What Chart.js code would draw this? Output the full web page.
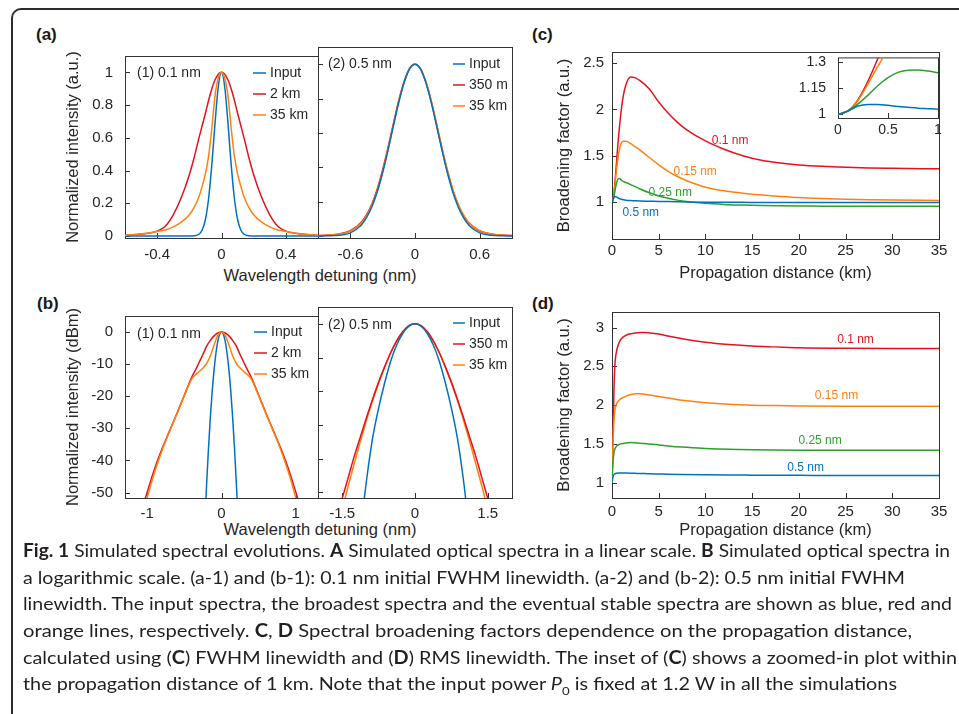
<!DOCTYPE html>
<html lang="en">
<head>
<meta charset="UTF-8">
<title>Fig. 1 Simulated spectral evolutions</title>
<script src="https://cdn.jsdelivr.net/npm/chart.js"></script>
<style>
  body { margin: 0; width: 959px; height: 714px; background: #fff; position: relative; overflow: hidden;
         font-family: "Liberation Sans", Arial, sans-serif; color: #262626; }
  .frame { position: absolute; left: 11px; top: 8px; width: 1000px; height: 800px;
           border-left: 2px solid #2b2b2b; border-top: 2px solid #2b2b2b; border-top-left-radius: 10px; }
  .box { position: absolute; }
  .plab { position: absolute; font-weight: bold; font-size: 17px; line-height: 17px; color: #1a1a1a; }
  .xt { position: absolute; width: 240px; text-align: center; font-size: 16.5px; line-height: 19.8px; }
  #caption { position: absolute; left: 23px; top: 537px; font-family: Lato, "Open Sans", sans-serif;
             font-size: 18px; line-height: 26.7px; color: #231f20; }
  #caption .ln { display: block; white-space: nowrap; height: 26.7px; }
  #caption .ln span.in { display: inline-block; transform-origin: 0 0; }
  #caption sub { font-size: 12px; line-height: 0; }
</style>
</head>
<body>
<div class="frame"></div>

<div class="plab" style="left:36px; top:26px">(a)</div>
<div class="plab" style="left:37px; top:295px">(b)</div>
<div class="plab" style="left:532px; top:26px">(c)</div>
<div class="plab" style="left:532px; top:295px">(d)</div>

<div class="xt" style="left:200px; top:266px">Wavelength detuning (nm)</div>
<div class="xt" style="left:200px; top:520px">Wavelength detuning (nm)</div>

<div class="box" style="left:64px; top:35px"><canvas id="a1" width="256" height="233"></canvas></div>
<div class="box" style="left:316px; top:35px"><canvas id="a2" width="198" height="233"></canvas></div>
<div class="box" style="left:64px; top:295px"><canvas id="b1" width="256" height="233"></canvas></div>
<div class="box" style="left:316px; top:295px"><canvas id="b2" width="198" height="233"></canvas></div>
<div class="box" style="left:555px; top:35px"><canvas id="c" width="398" height="248"></canvas></div>
<div class="box" style="left:793px; top:37px"><canvas id="cin" width="157" height="105"></canvas></div>
<div class="box" style="left:555px; top:295px"><canvas id="d" width="398" height="245"></canvas></div>

<div id="caption">
  <div class="ln"><span class="in"><b>Fig. 1</b> Simulated spectral evolutions. <b>A</b> Simulated optical spectra in a linear scale. <b>B</b> Simulated optical spectra in</span></div>
  <div class="ln"><span class="in">a logarithmic scale. (a-1) and (b-1): 0.1 nm initial FWHM linewidth. (a-2) and (b-2): 0.5 nm initial FWHM</span></div>
  <div class="ln"><span class="in">linewidth. The input spectra, the broadest spectra and the eventual stable spectra are shown as blue, red and</span></div>
  <div class="ln"><span class="in">orange lines, respectively. <b>C</b>, <b>D</b> Spectral broadening factors dependence on the propagation distance,</span></div>
  <div class="ln"><span class="in">calculated using (<b>C</b>) FWHM linewidth and (<b>D</b>) RMS linewidth. The inset of (<b>C</b>) shows a zoomed-in plot within</span></div>
  <div class="ln"><span class="in">the propagation distance of 1 km. Note that the input power <i>P</i><sub>0</sub> is fixed at 1.2 W in all the simulations</span></div>
</div>

<script>
// ---- data ----

// (a-1) linear spectra, 0.1 nm
var a1X      = [-0.6, -0.5, -0.4, -0.35, -0.3, -0.25, -0.2, -0.17, -0.14, -0.12, -0.1, -0.08, -0.06, -0.04, -0.02, 0,
                0.02, 0.04, 0.06, 0.08, 0.1, 0.12, 0.14, 0.17, 0.2, 0.25, 0.3, 0.35, 0.4, 0.5, 0.6];
var a1Input  = [0, 0, 0, 0, 0, 0, 0.0001, 0.0013, 0.011, 0.037, 0.101, 0.231, 0.438, 0.693, 0.912, 1,
                0.912, 0.693, 0.438, 0.231, 0.101, 0.037, 0.011, 0.0013, 0.0001, 0, 0, 0, 0, 0, 0];
var a1Broad  = [0.005, 0.012, 0.03, 0.06, 0.13, 0.235, 0.375, 0.48, 0.6, 0.675, 0.75, 0.83, 0.9, 0.955, 0.989, 1,
                0.989, 0.955, 0.9, 0.83, 0.75, 0.675, 0.6, 0.48, 0.375, 0.235, 0.13, 0.06, 0.03, 0.012, 0.005];
var a1Stable = [0.005, 0.013, 0.028, 0.037, 0.056, 0.085, 0.13, 0.175, 0.24, 0.305, 0.38, 0.49, 0.66, 0.86, 0.965, 1,
                0.965, 0.86, 0.66, 0.49, 0.38, 0.305, 0.24, 0.175, 0.13, 0.085, 0.056, 0.037, 0.028, 0.013, 0.005];

// (a-2) linear spectra, 0.5 nm
var a2X      = [-0.9, -0.8, -0.7, -0.6, -0.5, -0.45, -0.4, -0.35, -0.3, -0.25, -0.2, -0.15, -0.1, -0.05, 0,
                0.05, 0.1, 0.15, 0.2, 0.25, 0.3, 0.35, 0.4, 0.45, 0.5, 0.6, 0.7, 0.8, 0.9];
var a2Input  = [0.0001, 0.0008, 0.0044, 0.018, 0.0625, 0.106, 0.17, 0.257, 0.369, 0.5, 0.642, 0.779, 0.895, 0.973, 1,
                0.973, 0.895, 0.779, 0.642, 0.5, 0.369, 0.257, 0.17, 0.106, 0.0625, 0.018, 0.0044, 0.0008, 0.0001];
var a2Broad  = [0.002, 0.005, 0.012, 0.03, 0.078, 0.122, 0.185, 0.273, 0.385, 0.515, 0.655, 0.79, 0.9, 0.975, 1,
                0.974, 0.897, 0.785, 0.648, 0.508, 0.378, 0.268, 0.18, 0.118, 0.075, 0.029, 0.012, 0.005, 0.002];
var a2Stable = [0.002, 0.005, 0.011, 0.028, 0.074, 0.117, 0.178, 0.265, 0.376, 0.506, 0.646, 0.784, 0.896, 0.974, 1,
                0.975, 0.9, 0.79, 0.655, 0.515, 0.385, 0.273, 0.185, 0.122, 0.078, 0.03, 0.012, 0.005, 0.002];

// (b-1) log spectra, 0.1 nm (dBm)
var b1XInput = [-0.22, -0.2, -0.175, -0.15, -0.125, -0.1, -0.075, -0.05, -0.025, 0,
                0.025, 0.05, 0.075, 0.1, 0.125, 0.15, 0.175, 0.2, 0.22];
var b1Input  = [-57.1, -47.2, -36.1, -26.5, -18.4, -11.8, -6.6, -2.9, -0.7, 0,
                -0.7, -2.9, -6.6, -11.8, -18.4, -26.5, -36.1, -47.2, -57.1];
var b1X      = [-1.1, -1.05, -1, -0.9, -0.8, -0.7, -0.6, -0.5, -0.4, -0.35, -0.3, -0.25, -0.2, -0.15, -0.1, -0.05, 0,
                0.05, 0.1, 0.15, 0.2, 0.25, 0.3, 0.35, 0.4, 0.5, 0.6, 0.7, 0.8, 0.9, 1, 1.05, 1.1];
var b1Broad  = [-57, -53.5, -49.8, -42.5, -36.3, -30.8, -25.3, -19.6, -14.0, -11.8, -9.4, -7.0, -4.4, -2.6, -1.2, -0.3, 0,
                -0.3, -1.2, -2.6, -4.4, -7.0, -9.4, -11.8, -14.0, -19.6, -25.3, -30.8, -36.3, -42.5, -49.8, -53.5, -57];
var b1Stable = [-60, -56, -51.5, -43.5, -36.8, -31.0, -25.5, -19.8, -14.6, -13.3, -12.3, -11.2, -9.8, -7.4, -4.0, -1.0, 0,
                -1.0, -4.0, -7.4, -9.8, -11.2, -12.3, -13.3, -14.6, -19.8, -25.5, -31.0, -36.8, -43.5, -51.5, -56, -60];

// (b-2) log spectra, 0.5 nm (dBm)
var b2XInput = [-1.1, -1.05, -1, -0.875, -0.75, -0.625, -0.5, -0.375, -0.25, -0.125, 0,
                0.125, 0.25, 0.375, 0.5, 0.625, 0.75, 0.875, 1, 1.05, 1.1];
var b2Input  = [-58.5, -52.5, -46.5, -34, -25, -17.5, -11, -6.2, -2.8, -0.7, 0,
                -0.7, -2.8, -6.2, -11, -17.5, -25, -34, -46.5, -52.5, -58.5];
var b2X      = [-1.6, -1.5, -1.375, -1.25, -1.125, -1, -0.875, -0.75, -0.625, -0.5, -0.375, -0.25, -0.125, 0,
                0.125, 0.25, 0.375, 0.5, 0.625, 0.75, 0.875, 1, 1.125, 1.25, 1.375, 1.5, 1.6];
var b2Broad  = [-56.5, -51.8, -45.5, -39.2, -33.5, -27.8, -22.4, -17.3, -12.7, -8.5, -5.0, -2.3, -0.55, 0,
                -0.55, -2.3, -5.0, -8.5, -12.7, -17.3, -22.4, -27.8, -33.5, -39.2, -45.5, -51.8, -56.5];
var b2Stable = [-60.5, -55, -48, -41.3, -34.8, -28.6, -22.8, -17.6, -12.9, -8.6, -5.0, -2.3, -0.55, 0,
                -0.55, -2.3, -5.0, -8.6, -12.9, -17.6, -22.8, -28.6, -34.8, -41.3, -48, -55, -60.5];

// (c) FWHM broadening factor vs distance (km)
var cX     = [0, 0.1, 0.2, 0.3, 0.4, 0.5, 0.6, 0.7, 0.8, 0.9, 1, 1.2, 1.5, 2, 2.5, 3, 4, 5, 6, 7, 8, 10, 12, 14, 16, 18, 20, 22.5, 25, 27.5, 30, 35];
var c01    = [1, 1.02, 1.085, 1.19, 1.32, 1.45, 1.58, 1.7, 1.81, 1.91, 2.0, 2.14, 2.27, 2.35, 2.34, 2.31, 2.22, 2.08, 1.96, 1.86, 1.78, 1.66, 1.57, 1.5, 1.45, 1.42, 1.4, 1.385, 1.375, 1.368, 1.364, 1.358];
var c015   = [1, 1.02, 1.08, 1.175, 1.275, 1.37, 1.45, 1.52, 1.57, 1.61, 1.635, 1.655, 1.655, 1.63, 1.595, 1.56, 1.48, 1.4, 1.33, 1.275, 1.23, 1.16, 1.12, 1.095, 1.075, 1.06, 1.047, 1.037, 1.03, 1.025, 1.021, 1.017];
var c025   = [1, 1.02, 1.06, 1.11, 1.165, 1.21, 1.24, 1.252, 1.253, 1.247, 1.238, 1.222, 1.21, 1.188, 1.165, 1.14, 1.1, 1.065, 1.04, 1.02, 1.005, 0.985, 0.973, 0.966, 0.961, 0.958, 0.956, 0.955, 0.954, 0.954, 0.954, 0.954];
var c05    = [1, 1.02, 1.048, 1.057, 1.057, 1.052, 1.046, 1.041, 1.036, 1.033, 1.03, 1.025, 1.019, 1.015, 1.012, 1.01, 1.008, 1.006, 1.004, 1.002, 1.0, 0.998, 0.997, 0.996, 0.995, 0.995, 0.994, 0.994, 0.994, 0.993, 0.993, 0.993];

// (d) RMS broadening factor vs distance (km)
var dX     = [0, 0.1, 0.2, 0.3, 0.5, 0.75, 1, 1.5, 2, 2.5, 3, 3.5, 4, 5, 6, 7.5, 10, 12.5, 15, 17.5, 20, 25, 30, 35];
var d01    = [1, 1.55, 2.15, 2.5, 2.7, 2.8, 2.855, 2.9, 2.92, 2.93, 2.935, 2.935, 2.93, 2.915, 2.89, 2.855, 2.81, 2.78, 2.76, 2.75, 2.74, 2.732, 2.73, 2.73];
var d015   = [1, 1.45, 1.78, 1.93, 2.02, 2.06, 2.085, 2.115, 2.135, 2.145, 2.145, 2.14, 2.13, 2.11, 2.09, 2.06, 2.03, 2.01, 1.998, 1.992, 1.988, 1.985, 1.985, 1.985];
var d025   = [1, 1.25, 1.38, 1.43, 1.47, 1.49, 1.5, 1.51, 1.515, 1.512, 1.508, 1.503, 1.498, 1.485, 1.472, 1.457, 1.44, 1.428, 1.422, 1.419, 1.417, 1.415, 1.415, 1.415];
var d05    = [1, 1.07, 1.1, 1.112, 1.12, 1.124, 1.124, 1.122, 1.12, 1.118, 1.116, 1.115, 1.113, 1.11, 1.107, 1.104, 1.1, 1.097, 1.095, 1.093, 1.092, 1.091, 1.09, 1.09];

// tick values
var a1XTicks = [-0.4, 0, 0.4];
var a2XTicks = [-0.6, 0, 0.6];
var aYTicks  = [0, 0.2, 0.4, 0.6, 0.8, 1];
var b1XTicks = [-1, 0, 1];
var b2XTicks = [-1.5, 0, 1.5];
var bYTicks  = [-50, -40, -30, -20, -10, 0];
var kmTicks  = [0, 5, 10, 15, 20, 25, 30, 35];
var cYTicks  = [1, 1.5, 2, 2.5];
var inXTicks = [0, 0.5, 1];
var inYTicks = [1, 1.15, 1.3];
var dYTicks  = [1, 1.5, 2, 2.5, 3];

var BLUE = '#0072bd', RED = '#e5121e', ORANGE = '#ff800e', GREEN = '#2ca02c';
var FONT = '"Liberation Sans", Arial, sans-serif';

Chart.defaults.font.family = FONT;
Chart.defaults.color = '#262626';

// box, inward ticks, legend and in-plot texts
var framePlugin = {
  id: 'frame',
  beforeDatasetsDraw: function (chart, args, o) {
    var ctx = chart.ctx, a = chart.chartArea, sx = chart.scales.x, sy = chart.scales.y;
    ctx.save();
    ctx.strokeStyle = '#333';
    ctx.lineWidth = 1;
    ctx.strokeRect(a.left + 0.5, a.top + 0.5, a.right - a.left, a.bottom - a.top);
    ctx.beginPath();
    (o.xt || []).forEach(function (v) {
      var x = Math.round(sx.getPixelForValue(v)) + 0.5;
      ctx.moveTo(x, a.bottom); ctx.lineTo(x, a.bottom - 5);
    });
    (o.yt || []).forEach(function (v) {
      var y = Math.round(sy.getPixelForValue(v)) + 0.5;
      ctx.moveTo(a.left, y); ctx.lineTo(a.left + 5, y);
    });
    ctx.stroke();
    ctx.restore();
  },
  afterDatasetsDraw: function (chart, args, o) {
    var ctx = chart.ctx, a = chart.chartArea, sx = chart.scales.x, sy = chart.scales.y;
    ctx.save();
    ctx.textBaseline = 'middle';
    ctx.font = '14px ' + FONT;
    ctx.fillStyle = '#262626';
    if (o.note) {
      ctx.textAlign = 'left';
      ctx.fillText(o.note.text, a.left + o.note.dx, a.top + o.note.dy);
    }
    if (o.legend) {
      var L = o.legend;
      L.items.forEach(function (it, i) {
        var y = a.top + L.rows[i];
        ctx.strokeStyle = it.c;
        ctx.lineWidth = 1.5;
        ctx.beginPath();
        ctx.moveTo(a.left + L.x, y); ctx.lineTo(a.left + L.x + L.w, y);
        ctx.stroke();
        ctx.fillStyle = '#262626';
        ctx.textAlign = 'left';
        ctx.fillText(it.t, a.left + L.x + L.w + 4, y);
      });
    }
    if (o.labels) {
      ctx.font = '12px ' + FONT;
      ctx.textAlign = 'center';
      o.labels.forEach(function (l) {
        ctx.fillStyle = l.c;
        ctx.fillText(l.t, sx.getPixelForValue(l.x), sy.getPixelForValue(l.y));
      });
    }
    ctx.restore();
  }
};

function series(xs, ys, color) {
  return {
    data: xs.map(function (x, i) { return {x: x, y: ys[i]}; }),
    borderColor: color, borderWidth: 1.5, pointRadius: 0,
    cubicInterpolationMode: 'monotone', fill: false
  };
}

function axis(o) {
  return {
    type: 'linear', display: o.show !== false, min: o.min, max: o.max,
    grid: {display: false, drawTicks: false}, border: {display: false},
    ticks: {autoSkip: false, maxRotation: 0, padding: o.pad, font: {size: o.fs || 15},
            callback: function (v) { return String(v); }},
    title: o.title ? {display: true, text: o.title, padding: 0, font: {size: 16.5}} : {display: false},
    afterBuildTicks: function (s) { s.ticks = o.ticks.map(function (v) { return {value: v}; }); },
    afterFit: function (s) {
      if (o.w != null) s.width = o.w;
      if (o.h != null) s.height = o.h;
    }
  };
}

function makeChart(id, sets, xa, ya, pad, frame) {
  return new Chart(document.getElementById(id), {
    type: 'line',
    data: {datasets: sets},
    options: {
      responsive: false, animation: false, events: [],
      layout: {padding: pad},
      plugins: {legend: {display: false}, tooltip: {enabled: false}, frame: frame},
      scales: {x: axis(xa), y: axis(ya)}
    },
    plugins: [framePlugin]
  });
}

var legendA = function (second) {
  return {x: 0, w: 12, rows: [17, 38, 59], items: [
    {t: 'Input', c: BLUE}, {t: second, c: RED}, {t: '35 km', c: ORANGE}]};
};

// (a-1)
var la1 = legendA('2 km'); la1.x = 128; la1.w = 13;
makeChart('a1',
  [series(a1X, a1Stable, ORANGE), series(a1X, a1Broad, RED), series(a1X, a1Input, BLUE)],
  {min: -0.6, max: 0.6, ticks: a1XTicks, pad: 8, h: 30},
  {min: -0.012, max: 1.1, ticks: aYTicks, pad: 12, w: 61, title: 'Normalized intensity (a.u.)'},
  {top: 12, right: 2, left: 0, bottom: 0},
  {xt: a1XTicks, yt: aYTicks, note: {text: '(1) 0.1 nm', dx: 12, dy: 17}, legend: la1});

// (a-2)
var la2 = legendA('350 m'); la2.x = 135;
makeChart('a2',
  [series(a2X, a2Input, BLUE), series(a2X, a2Stable, ORANGE), series(a2X, a2Broad, RED)],
  {min: -0.9, max: 0.9, ticks: a2XTicks, pad: 8, h: 30},
  {show: false, min: -0.012, max: 1.1, ticks: aYTicks},
  {top: 12, right: 2, left: 2, bottom: 0},
  {xt: a2XTicks, yt: aYTicks, note: {text: '(2) 0.5 nm', dx: 10, dy: 17}, legend: la2});

// (b-1)
var lb1 = legendA('2 km'); lb1.x = 129; lb1.w = 13; lb1.rows = [16, 37, 58];
makeChart('b1',
  [series(b1X, b1Stable, ORANGE), series(b1X, b1Broad, RED), series(b1XInput, b1Input, BLUE)],
  {min: -1.3, max: 1.3, ticks: b1XTicks, pad: 7, h: 30},
  {min: -51.7, max: 5, ticks: bYTicks, pad: 12, w: 61, title: 'Normalized intensity (dBm)'},
  {top: 12, right: 2, left: 0, bottom: 0},
  {xt: b1XTicks, yt: bYTicks, note: {text: '(1) 0.1 nm', dx: 12, dy: 18}, legend: lb1});

// (b-2)
var lb2 = legendA('350 m'); lb2.x = 135; lb2.rows = [16, 37, 58];
makeChart('b2',
  [series(b2XInput, b2Input, BLUE), series(b2X, b2Broad, RED), series(b2X, b2Stable, ORANGE)],
  {min: -2, max: 2, ticks: b2XTicks, pad: 7, h: 30},
  {show: false, min: -51.7, max: 5, ticks: bYTicks},
  {top: 12, right: 2, left: 2, bottom: 0},
  {xt: b2XTicks, yt: bYTicks, note: {text: '(2) 0.5 nm', dx: 10, dy: 18}, legend: lb2});

// (c)
var cSets = function () {
  return [series(cX, c05, BLUE), series(cX, c025, GREEN), series(cX, c015, ORANGE), series(cX, c01, RED)];
};
makeChart('c', cSets(),
  {min: 0, max: 35, ticks: kmTicks, pad: 3, h: 44, title: 'Propagation distance (km)'},
  {min: 0.6, max: 2.62, ticks: cYTicks, pad: 8, w: 57, title: 'Broadening factor (a.u.)'},
  {top: 12, right: 14, left: 0, bottom: 0},
  {xt: kmTicks, yt: cYTicks, labels: [
    {t: '0.1 nm', x: 12.65, y: 1.666, c: RED},
    {t: '0.15 nm', x: 8.9, y: 1.33, c: ORANGE},
    {t: '0.25 nm', x: 6.23, y: 1.1, c: GREEN},
    {t: '0.5 nm', x: 3.08, y: 0.88, c: BLUE}]});

// (c) inset, first km
makeChart('cin', cSets(),
  {min: 0, max: 1, ticks: inXTicks, pad: 4, h: 24, fs: 14},
  {min: 0.98, max: 1.325, ticks: inYTicks, pad: 12, w: 45, fs: 14},
  {top: 12, right: 12, left: 0, bottom: 0},
  {xt: inXTicks, yt: inYTicks});

// (d)
makeChart('d',
  [series(dX, d05, BLUE), series(dX, d025, GREEN), series(dX, d015, ORANGE), series(dX, d01, RED)],
  {min: 0, max: 35, ticks: kmTicks, pad: 5, h: 42, title: 'Propagation distance (km)'},
  {min: 0.8, max: 3.2, ticks: dYTicks, pad: 8, w: 57, title: 'Broadening factor (a.u.)'},
  {top: 12, right: 14, left: 0, bottom: 0},
  {xt: kmTicks, yt: dYTicks, labels: [
    {t: '0.1 nm', x: 26.06, y: 2.84, c: RED},
    {t: '0.15 nm', x: 24.03, y: 2.116, c: ORANGE},
    {t: '0.25 nm', x: 22.27, y: 1.54, c: GREEN},
    {t: '0.5 nm', x: 20.72, y: 1.19, c: BLUE}]});

// caption lines: stretch each to the width it has in the figure
var lineWidths = [927, 882, 929, 889, 934, 874];
document.querySelectorAll('#caption .in').forEach(function (el, i) {
  var w = el.getBoundingClientRect().width;
  el.style.transform = 'scaleX(' + (lineWidths[i] / w).toFixed(4) + ')';
});
</script>
</body>
</html>
